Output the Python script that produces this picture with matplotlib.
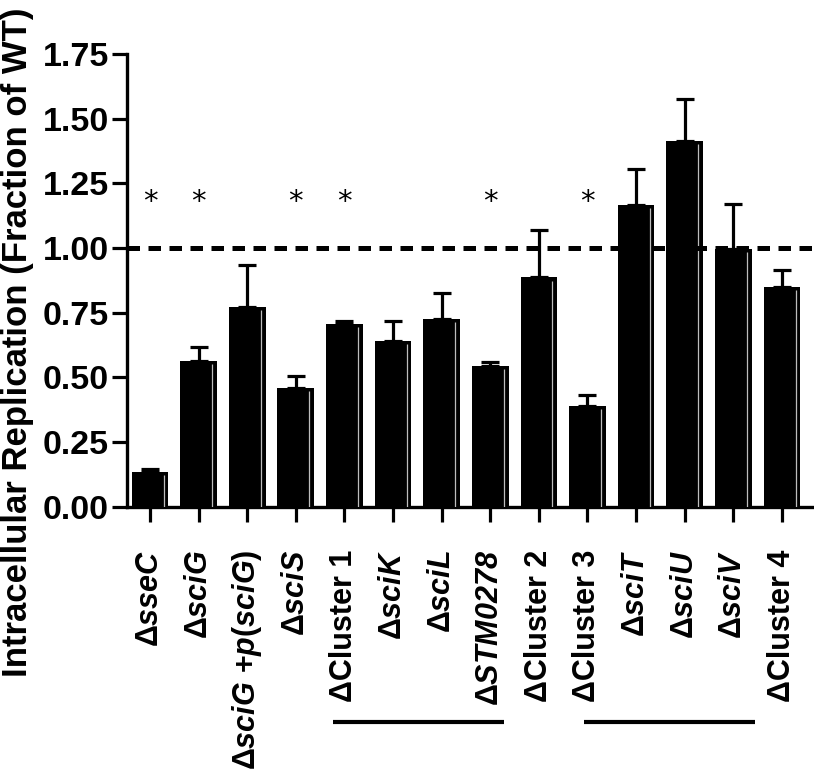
import matplotlib
matplotlib.use("Agg")
import matplotlib.pyplot as plt
import matplotlib.transforms as mtransforms
import numpy as np

plt.rcParams['font.family'] = ['Liberation Sans', 'DejaVu Sans']
plt.rcParams['font.weight'] = 'bold'
plt.rcParams['mathtext.fontset'] = 'custom'
plt.rcParams['mathtext.rm'] = 'Liberation Sans:bold'
plt.rcParams['mathtext.bf'] = 'Liberation Sans:bold'
plt.rcParams['mathtext.it'] = 'Liberation Sans:italic:bold'
# sf slot used for italic names that contain digits
plt.rcParams['mathtext.sf'] = 'Liberation Sans:italic:bold'

# strains (tick labels), mean replication and upper SEM
strains = [
    r'$\mathrm{Δ}\mathit{sseC}$',
    r'$\mathrm{Δ}\mathit{sciG}$',
    r'$\mathrm{Δ}\mathit{sciG}\ \mathrm{+}\mathit{p}\mathrm{(}\mathit{sciG}\mathrm{)}$',
    r'$\mathrm{Δ}\mathit{sciS}$',
    'ΔCluster 1',
    r'$\mathrm{Δ}\mathit{sciK}$',
    r'$\mathrm{Δ}\mathit{sciL}$',
    r'$\mathrm{Δ}\mathsf{STM0278}$',
    'ΔCluster 2',
    'ΔCluster 3',
    r'$\mathrm{Δ}\mathit{sciT}$',
    r'$\mathrm{Δ}\mathit{sciU}$',
    r'$\mathrm{Δ}\mathit{sciV}$',
    'ΔCluster 4',
]
replication = [0.135, 0.565, 0.772, 0.46, 0.708, 0.64, 0.727,
               0.545, 0.886, 0.39, 1.165, 1.415, 0.997, 0.848]
sem = [0.01, 0.053, 0.162, 0.044, 0.01, 0.078, 0.098,
       0.013, 0.184, 0.04, 0.14, 0.161, 0.174, 0.067]
significant = [1, 1, 0, 1, 1, 0, 0, 1, 0, 1, 0, 0, 0, 0]
star_level = 1.2
wt_level = 1.0
# cluster groupings underlined below the labels (first, last index)
groups = [(4, 7), (9, 12)]

fig = plt.figure(figsize=(8.14, 7.69), dpi=100)
ax = fig.add_axes([0.156, 0.3411, 0.844, 0.5887])

x = np.arange(len(strains))
vals = np.array(replication)
errs = np.array(sem)

ax.bar(x, vals, width=0.755, color='black', zorder=2)
# thin light streak inside each bar, as in the original export
ax.vlines(x + 0.28, 0, vals - 0.012, colors='#bdbdbd', lw=0.9, zorder=3)
ax.errorbar(x, vals, yerr=[np.zeros_like(errs), errs], fmt='none',
            ecolor='black', elinewidth=2.3, capsize=6.5, capthick=2.3, zorder=2)

ax.axhline(wt_level, color='black', lw=3.6, dashes=(2.5, 1.7), zorder=4)

for xi, s in zip(x, significant):
    if s:
        ax.annotate('*', (xi, star_level), xytext=(0, -4), textcoords='offset points',
                    ha='center', va='center', fontsize=21,
                    fontweight='normal', family='DejaVu Sans')

ax.set_xlim(-0.473, 13.66)
ax.set_ylim(0, 1.75)
ax.set_yticks([0, 0.25, 0.5, 0.75, 1.0, 1.25, 1.5, 1.75])
ax.set_yticklabels(['0.00', '0.25', '0.50', '0.75', '1.00', '1.25', '1.50', '1.75'])
ax.set_xticks(x)
ax.set_xticklabels(strains, rotation=90, fontsize=22)

for sp in ['top', 'right']:
    ax.spines[sp].set_visible(False)
for sp in ['left', 'bottom']:
    ax.spines[sp].set_linewidth(2.4)
ax.tick_params(axis='y', length=11, width=2.3, labelsize=24.5, pad=2)
ax.tick_params(axis='x', length=11, width=2.3, pad=20)

trans = mtransforms.blended_transform_factory(ax.transData, ax.transAxes)
pads = [(0.23, 0.28), (0.07, 0.45)]
for (a, b), (pl, pr) in zip(groups, pads):
    ax.plot([a - pl, b + pr], [-0.4756, -0.4756], color='black', lw=3,
            transform=trans, clip_on=False, solid_capstyle='butt')

fig.text(0.021, 0.555, 'Intracellular Replication (Fraction of WT)',
         rotation=90, ha='center', va='center', fontsize=25, fontweight='bold')

fig.savefig('out.png', dpi=100)
